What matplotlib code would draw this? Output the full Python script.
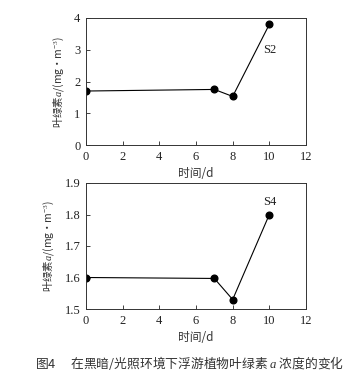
import matplotlib
matplotlib.use("Agg")
import matplotlib.pyplot as plt

plt.rcParams['font.family'] = ['Liberation Serif', 'Noto Sans CJK SC', 'DejaVu Sans']
plt.rcParams['mathtext.fontset'] = 'custom'
plt.rcParams['mathtext.rm'] = 'Liberation Serif'
plt.rcParams['mathtext.it'] = 'Liberation Serif:italic'

days = [0, 7, 8, 10]
s2_values = [1.70, 1.75, 1.53, 3.80]
s4_values = [1.600, 1.597, 1.530, 1.800]
x_ticks = [0, 2, 4, 6, 8, 10, 12]
s2_yticks = [0, 1, 2, 3, 4]
s4_yticks = [1.5, 1.6, 1.7, 1.8, 1.9]
xlabel = '时间/d'
ylabel_cn = '叶绿素'
caption = '图4\u3000 在黑暗/光照环境下浮游植物叶绿素 $a$ 浓度的变化'

fig = plt.figure(figsize=(3.54, 3.74), dpi=100)
W, H = 354, 374

def make_ax(top, bottom, left=86, right=306):
    return fig.add_axes([left / W, 1 - bottom / H, (right - left) / W, (bottom - top) / H])

ax1 = make_ax(18, 145)
ax2 = make_ax(183, 309)

cjk = ['Noto Sans CJK SC', 'DejaVu Sans']

def style(ax, vals, yticks, ylim, fmt, label, lpos):
    ax.plot(days, vals, color='black', lw=0.8, marker='o', ms=4.8, mfc='black', mec='black')
    ax.set_xlim(0, 12)
    ax.set_ylim(*ylim)
    ax.set_xticks(x_ticks)
    ax.set_yticks(yticks)
    ax.set_yticklabels([fmt.format(v) for v in yticks])
    ax.tick_params(direction='in', length=3, width=0.6, labelsize=9, pad=4, colors='#222222')
    for s in ax.spines.values():
        s.set_linewidth(0.7)
        s.set_color('#333333')
    ax.set_xlabel(xlabel, family=cjk, fontsize=8.5, labelpad=3, color='#333333')
    ax.set_ylabel(ylabel_cn + r'$a$/(mg·m$^{-3}$)', family=cjk,
                  fontsize=7.5, labelpad=6, color='#333333')
    ax.text(lpos[0], lpos[1], label, ha='center', va='center', fontsize=9, color='#222222')

style(ax1, s2_values, s2_yticks, (0, 4), '{:.0f}', 'S2', (10, 3.0))
style(ax2, s4_values, s4_yticks, (1.5, 1.9), '{:.1f}', 'S4', (10, 1.84))

fig.text(0.535, 1 - 363 / H, caption, ha='center', va='center', fontsize=9.2,
         family=cjk, color='#333333')

fig.savefig('out.png', dpi=100)
